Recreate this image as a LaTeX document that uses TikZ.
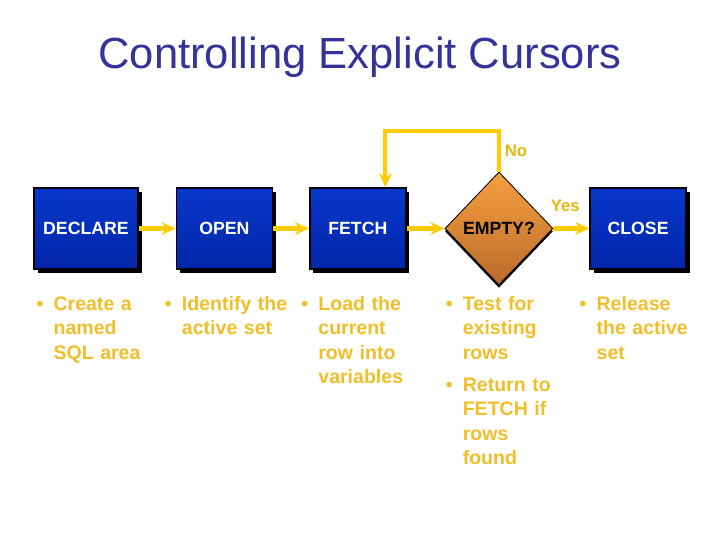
\documentclass[tikz,border=0pt]{standalone}
\usepackage{fontspec}
\setmainfont{Liberation Sans}
\usetikzlibrary{shapes.geometric,arrows.meta,positioning,calc,shadows}
\definecolor{TitleBlue}{HTML}{333399}
\definecolor{BoxBlue}{HTML}{0838CC}
\definecolor{BoxBlueDark}{HTML}{0226A8}
\definecolor{ArrowGold}{HTML}{FFCC00}
\definecolor{LabelGold}{HTML}{E8B810}
\definecolor{BulletGold}{HTML}{F0BE28}
\definecolor{DiamondTop}{HTML}{F7A040}
\definecolor{DiamondBot}{HTML}{B86A2A}
\newcommand{\bpoint}[1]{\par\leftskip=0.425cm\rightskip=0pt plus 1fil\noindent\llap{\makebox[0.425cm][l]{\textbullet}}#1\par}
\tikzset{
  stage/.style={rectangle,draw=black,line width=1pt,
                top color=BoxBlue,bottom color=BoxBlueDark,
                minimum width=2.4cm,minimum height=2.025cm,
                text=white,font=\fontsize{12.6}{14}\selectfont\bfseries,
                drop shadow={shadow xshift=2.5pt,shadow yshift=-2.5pt,fill=black,opacity=1}},
  test/.style={diamond,draw=black,line width=0.6pt,inner sep=0pt,
               top color=DiamondTop,bottom color=DiamondBot,
               minimum width=2.7cm,minimum height=2.825cm,
               text=black,font=\fontsize{12.6}{14}\selectfont\bfseries,
               drop shadow={shadow xshift=0pt,shadow yshift=-2pt,fill=black,opacity=1}},
  arr/.style={-{Stealth[length=10pt,width=9pt]},line width=3pt,draw=ArrowGold},
  note/.style={text width=3.4cm,inner sep=0pt,text=BulletGold,
               font=\fontsize{13.9}{17.4}\selectfont\bfseries},
  flag/.style={text=LabelGold,font=\fontsize{11.9}{14}\selectfont\bfseries}
}
\begin{document}
\begin{tikzpicture}[node distance=0.9cm]
  \useasboundingbox (0,0) rectangle (18,-13.5);
  \node[font=\fontsize{31}{36}\selectfont,text=TitleBlue,anchor=base] (title) at (9,-1.7) {Controlling Explicit Cursors};
  % stages of the cursor
  \node[stage,minimum width=2.6cm] (decl) at (2.15,-5.7125) {DECLARE};
  \node[stage,right=0.925cm of decl] (open) {OPEN};
  \node[stage,right=0.9cm of open] (fetch) {FETCH};
  \node[test,right=0.95cm of fetch] (empty) {EMPTY?};
  \node[stage,right=0.9cm of empty] (close) {CLOSE};
  \draw[arr] (decl) -- (open);
  \draw[arr] (open) -- (fetch);
  \draw[arr] (fetch) -- (empty);
  \draw[arr] (empty) -- (close);
  % loop back to fetch
  \coordinate (turn) at ($(fetch.north)+(0.6875,1.4)$);
  \draw[arr] (empty.north) |- (turn) -- (turn |- fetch.north);
  \node[flag] (no) at ($(empty.north)+(0.425,0.525)$) {No};
  \node[flag] (yes) at ($(empty.east)+(0.3,0.5625)$) {Yes};
  % notes under the stages
  \node[note,below right=0.4cm and 0.075cm of decl.south west] (declnote) {\bpoint{Create a\\named\\SQL area}};
  \node[note,below right=0.4cm and -0.275cm of open.south west] (opennote) {\bpoint{Identify the\\active set}};
  \node[note,below right=0.4cm and -0.2cm of fetch.south west] (fetchnote) {\bpoint{Load the\\current\\row into\\variables}};
  \node[note,below right=0.4cm and 0.025cm of empty.west |- fetch.south] (emptynote) {\bpoint{Test for\\existing\\rows}\vspace{5.3pt}\bpoint{Return to\\FETCH if\\rows\\found}};
  \node[note,below right=0.4cm and -0.25cm of close.south west] (closenote) {\bpoint{Release\\the active\\set}};
\end{tikzpicture}
\end{document}
